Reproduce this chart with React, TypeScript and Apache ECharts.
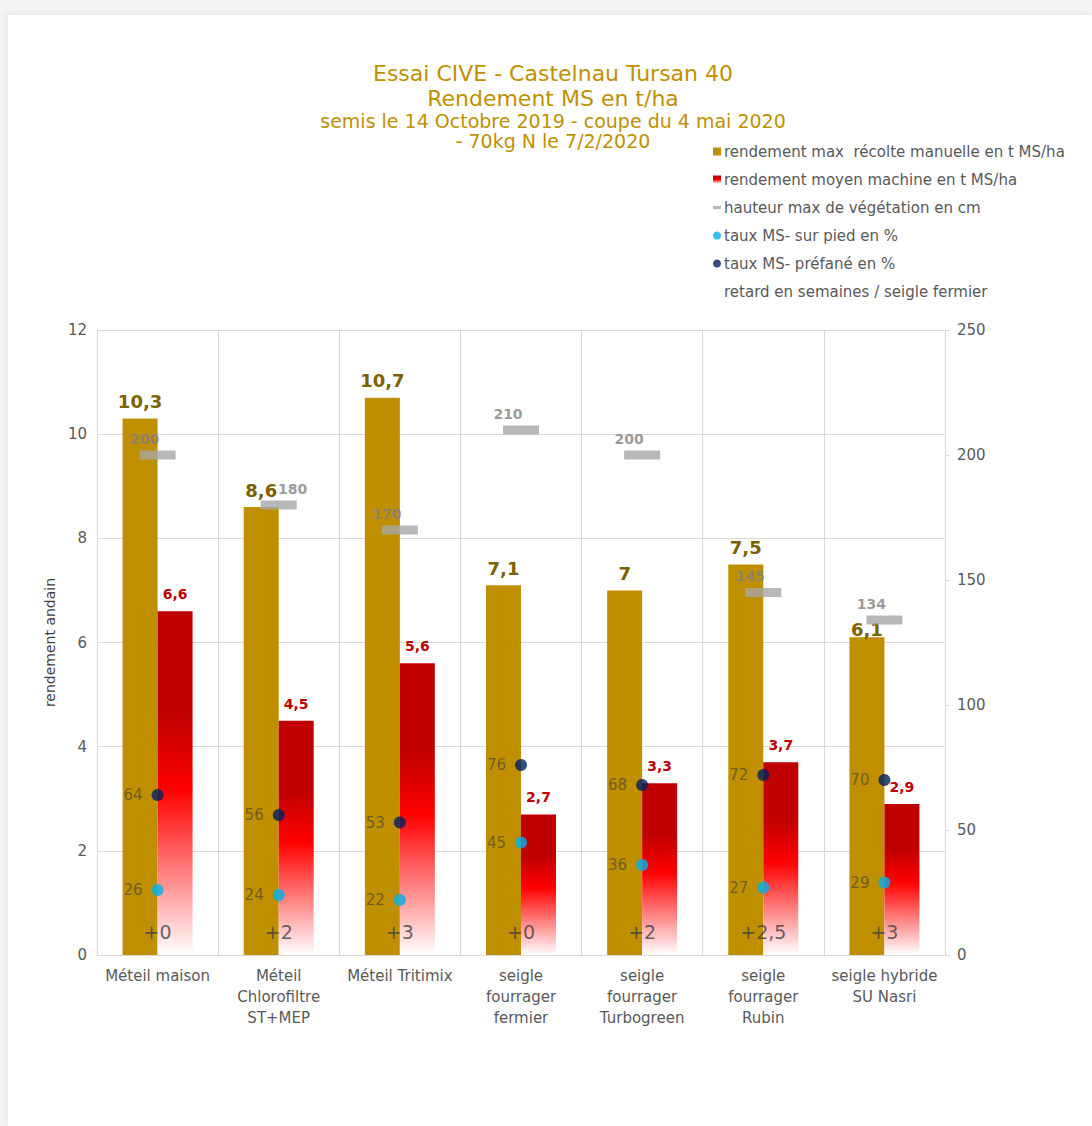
import React, { useEffect, useRef } from "react";
import * as echarts from "echarts";

const categories = [
  "Méteil maison",
  "Méteil\nChlorofiltre\nST+MEP",
  "Méteil Tritimix",
  "seigle\nfourrager\nfermier",
  "seigle\nfourrager\nTurbogreen",
  "seigle\nfourrager\nRubin",
  "seigle hybride\nSU Nasri",
];
const rendementMax = [10.3, 8.6, 10.7, 7.1, 7, 7.5, 6.1];
const rendementMoyen = [6.6, 4.5, 5.6, 2.7, 3.3, 3.7, 2.9];
const hauteur = [200, 180, 170, 210, 200, 145, 134];
const tauxSurPied = [26, 24, 22, 45, 36, 27, 29];
const tauxPrefane = [64, 56, 53, 76, 68, 72, 70];
const retard = ["+0", "+2", "+3", "+0", "+2", "+2,5", "+3"];
const leftTicks = { min: 0, max: 12, interval: 2 };
const rightTicks = { min: 0, max: 250, interval: 50 };

const names = [
  "rendement max  récolte manuelle en t MS/ha",
  "rendement moyen machine en t MS/ha",
  "hauteur max de végétation en cm",
  "taux MS- sur pied en %",
  "taux MS- préfané en %",
  "retard en semaines / seigle fermier",
];

const FONT = "DejaVu Sans";
const comma = (v: number) => String(v).replace(".", ",");

export default function App() {
  const ref = useRef<HTMLDivElement>(null);
  useEffect(() => {
    if (!ref.current) return;
    const chart = echarts.init(ref.current, null, { renderer: "svg" });
    const redGrad = new echarts.graphic.LinearGradient(0, 0, 0, 1, [
      { offset: 0, color: "#C00000" },
      { offset: 0.3, color: "#C00000" },
      { offset: 0.52, color: "#FF0000" },
      { offset: 1, color: "#FFFFFF" },
    ]);
    const titleColor = "#BF9000";
    chart.setOption({
      animation: false,
      backgroundColor: "transparent",
      textStyle: { fontFamily: FONT },
      graphic: [
        { type: "text", x: 553, y: 73, style: { text: "Essai CIVE - Castelnau Tursan 40", fill: titleColor, font: `22px '${FONT}'`, textAlign: "center", textVerticalAlign: "middle" } },
        { type: "text", x: 553, y: 98, style: { text: "Rendement MS en t/ha", fill: titleColor, font: `22px '${FONT}'`, textAlign: "center", textVerticalAlign: "middle" } },
        { type: "text", x: 553, y: 121, style: { text: "semis le 14 Octobre 2019 - coupe du 4 mai 2020", fill: titleColor, font: `19px '${FONT}'`, textAlign: "center", textVerticalAlign: "middle" } },
        { type: "text", x: 553, y: 141, style: { text: "- 70kg N le 7/2/2020", fill: titleColor, font: `19px '${FONT}'`, textAlign: "center", textVerticalAlign: "middle" } },
      ],
      legend: {
        orient: "vertical",
        left: 708,
        top: 139,
        itemWidth: 8,
        itemHeight: 8,
        itemGap: 13,
        textStyle: { color: "#595959", fontSize: 15, fontFamily: FONT, padding: [0, 0, 0, -2] },
        data: [
          { name: names[0], icon: "rect" },
          { name: names[1], icon: "rect" },
          { name: names[2], icon: "path://M0,3H10V7H0Z" },
          { name: names[3], icon: "circle" },
          { name: names[4], icon: "circle" },
          { name: names[5], icon: "none" },
        ],
      },
      grid: { left: 97, right: 147, top: 330, bottom: 171 },
      xAxis: {
        type: "category",
        data: categories,
        axisLine: { lineStyle: { color: "#D9D9D9" } },
        axisTick: { show: false },
        splitLine: { show: true, lineStyle: { color: "#D9D9D9" } },
        axisLabel: { interval: 0, color: "#595959", fontSize: 15, fontFamily: FONT, margin: 10, lineHeight: 21 },
      },
      yAxis: [
        {
          type: "value",
          ...leftTicks,
          name: "rendement andain",
          nameLocation: "middle",
          nameRotate: 90,
          nameGap: 38,
          nameTextStyle: { color: "#404040", fontSize: 14, fontFamily: FONT },
          axisLine: { show: false },
          axisTick: { show: false },
          splitLine: { lineStyle: { color: "#D9D9D9" } },
          axisLabel: { color: "#595959", fontSize: 15, fontFamily: FONT, margin: 10 },
        },
        {
          type: "value",
          ...rightTicks,
          axisLine: { show: true, lineStyle: { color: "#D9D9D9" } },
          axisTick: { show: true, length: 5, lineStyle: { color: "#D9D9D9" } },
          splitLine: { show: false },
          axisLabel: { color: "#595959", fontSize: 15, fontFamily: FONT, margin: 12 },
        },
      ],
      series: [
        {
          name: names[0],
          type: "bar",
          data: rendementMax.map((v, i) =>
            i === 6 ? { value: v, label: { distance: -1 } } : v
          ),
          barWidth: 35,
          barGap: "0%",
          itemStyle: { color: "#BF8F00" },
          label: {
            show: true,
            position: "top",
            distance: 8,
            color: "#7F6000",
            fontWeight: "bold",
            fontSize: 18,
            fontFamily: FONT,
            formatter: (p: any) => comma(p.value),
          },
          z: 2,
        },
        {
          name: names[1],
          type: "bar",
          data: rendementMoyen,
          barWidth: 35,
          barGap: "0%",
          itemStyle: { color: redGrad },
          label: {
            show: true,
            position: "top",
            distance: 10,
            color: "#C00000",
            fontWeight: "bold",
            fontSize: 14,
            fontFamily: FONT,
            formatter: (p: any) => comma(p.value),
          },
          z: 2,
        },
        {
          name: names[2],
          type: "scatter",
          yAxisIndex: 1,
          data: hauteur.map((v, i) =>
            i === 1 ? { value: v, label: { offset: [14, 0] } } : v
          ),
          symbol: "rect",
          symbolSize: [36, 9],
          itemStyle: { color: "#A6A6A6" },
          label: {
            show: true,
            position: "top",
            distance: 5,
            offset: [-13, 0],
            color: "#7F7F7F",
            fontWeight: "bold",
            fontSize: 14,
            fontFamily: FONT,
          },
          z: 5,
        },
        {
          name: names[3],
          type: "scatter",
          yAxisIndex: 1,
          data: tauxSurPied,
          symbol: "circle",
          symbolSize: 12,
          itemStyle: { color: "#00B0F0" },
          label: { show: true, position: "left", distance: 9, color: "#5C4F2C", fontSize: 15, fontFamily: FONT },
          z: 5,
        },
        {
          name: names[4],
          type: "scatter",
          yAxisIndex: 1,
          data: tauxPrefane,
          symbol: "circle",
          symbolSize: 12,
          itemStyle: { color: "#002060" },
          label: { show: true, position: "left", distance: 9, color: "#5C4F2C", fontSize: 15, fontFamily: FONT },
          z: 5,
        },
        {
          name: names[5],
          type: "scatter",
          yAxisIndex: 1,
          data: retard.map(() => 0),
          symbolSize: 0,
          itemStyle: { color: "transparent" },
          label: {
            show: true,
            position: "top",
            distance: 14,
            color: "#404040",
            fontSize: 19,
            fontFamily: FONT,
            formatter: (p: any) => retard[p.dataIndex],
          },
          z: 6,
        },
      ],
    });
    return () => chart.dispose();
  }, []);
  return (
    <div style={{ position: "absolute", left: 0, top: 0, width: 1092, height: 1126, background: "#f4f4f4" }}>
      <div style={{ position: "absolute", left: 8, top: 15, width: 1084, height: 1111, background: "#ffffff", boxShadow: "-2px -2px 6px rgba(0,0,0,0.06)" }} />
      <div ref={ref} style={{ position: "absolute", left: 0, top: 0, width: 1092, height: 1126 }} />
    </div>
  );
}
